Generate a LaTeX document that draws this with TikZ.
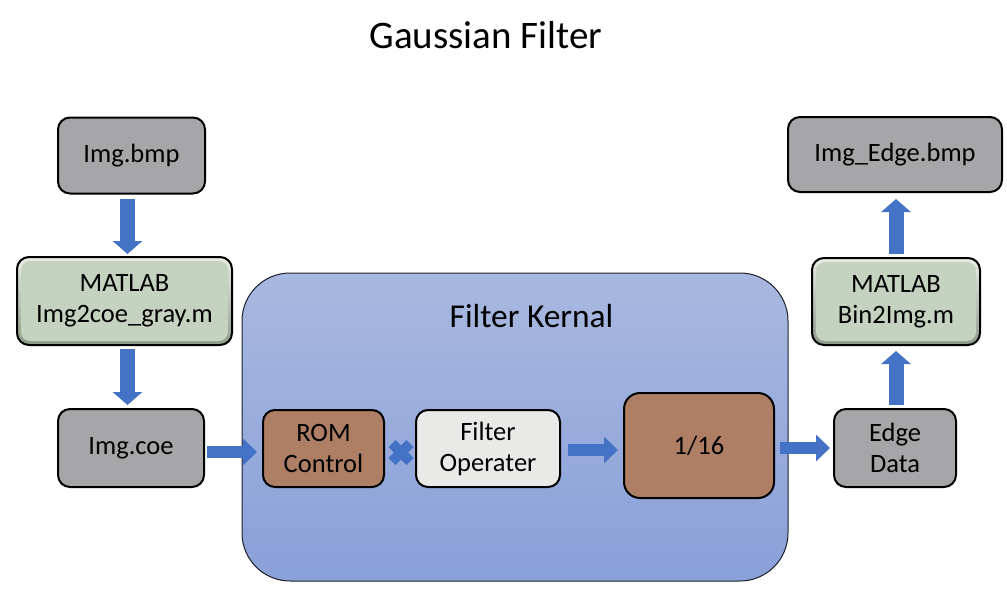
\documentclass[tikz,border=0pt]{standalone}
\usepackage{fontspec}
\setmainfont{Carlito}
\usetikzlibrary{arrows.meta,calc}
\definecolor{boxgray}{RGB}{166,165,167}
\definecolor{matgreen}{RGB}{197,210,191}
\definecolor{matlight}{RGB}{232,238,228}
\definecolor{matdark}{RGB}{140,155,135}
\definecolor{brownbox}{RGB}{174,127,101}
\definecolor{lightbox}{RGB}{233,233,231}
\definecolor{arrowblue}{RGB}{68,114,196}
\definecolor{kerntop}{RGB}{168,184,224}
\definecolor{kernbot}{RGB}{137,160,216}
\definecolor{kernline}{RGB}{30,30,40}
\tikzset{
  basebox/.style={draw=black, line width=2pt, rounded corners=12pt, align=center,
    font=\fontsize{26.5}{31}\selectfont, inner sep=0pt},
  graybox/.style={basebox, fill=boxgray},
  brbox/.style={basebox, fill=brownbox},
  ltbox/.style={basebox, fill=lightbox},
  matbox/.style={basebox, top color=matlight, bottom color=matdark,
    path picture={\fill[matgreen, rounded corners=9pt]
      ([shift={(4pt,-4pt)}]path picture bounding box.north west) rectangle
      ([shift={(-4pt,4pt)}]path picture bounding box.south east);}},
  varrow/.style={draw=arrowblue, line width=15pt, -{Triangle[width=29pt,length=13pt]}},
  harrow/.style={draw=arrowblue, line width=12pt, -{Triangle[width=26pt,length=14pt]}},
}
\begin{document}
\begin{tikzpicture}[x=1pt,y=-1pt]
\useasboundingbox (0,0) rectangle (1007,590);
% kernel container
\node[draw=kernline, line width=1pt, rounded corners=48pt, top color=kerntop, bottom color=kernbot,
  minimum width=546pt, minimum height=308pt, inner sep=0pt] (kernel) at (515,427) {};
\node[font=\fontsize{39}{46}\selectfont] (title) at (486,35) {Gaussian Filter};
\node[font=\fontsize{33.4}{40}\selectfont] (kerntitle) at (531.5,316.5) {Filter Kernal};
% boxes
\node[graybox, minimum width=147pt, minimum height=76pt] (imgbmp) at (131.5,155.5) {Img.bmp};
\node[matbox, minimum width=215pt, minimum height=88pt] (mat1) at (124.5,301) {MATLAB\\Img2coe\_gray.m};
\node[graybox, minimum width=146pt, minimum height=78pt] (imgcoe) at (131,448) {Img.coe};
\node[brbox, minimum width=121pt, minimum height=77pt] (rom) at (323.5,448.5) {ROM\\Control};
\node[ltbox, minimum width=144pt, minimum height=77pt] (fop) at (488,448.5) {Filter\\Operater};
\node[brbox, rounded corners=16pt, minimum width=150pt, minimum height=105pt] (r16) at (699,445.5) {1/16};
\node[graybox, minimum width=122pt, minimum height=78pt] (edge) at (895,448) {Edge\\Data};
\node[matbox, minimum width=168pt, minimum height=87pt] (mat2) at (896,301.5) {MATLAB\\Bin2Img.m};
\node[graybox, minimum width=214pt, minimum height=75pt] (imgedge) at (895,154.5) {Img\_Edge.bmp};
% cross between ROM and operator
\coordinate (cross) at (401,452.5);
\draw[arrowblue, line width=10pt] ([shift={(-9pt,9pt)}]cross) -- ([shift={(9pt,-9pt)}]cross);
\draw[arrowblue, line width=10pt] ([shift={(-9pt,-9pt)}]cross) -- ([shift={(9pt,9pt)}]cross);
% arrows
\draw[varrow, shorten <=4.5pt, shorten >=2pt] ([xshift=-4pt]imgbmp.south) -- ([xshift=-4pt]imgbmp.south |- mat1.north);
\draw[varrow, shorten <=3pt, shorten >=3pt] ([xshift=3pt]mat1.south) -- ([xshift=3pt]mat1.south |- imgcoe.north);
\draw[harrow, shorten <=2pt, shorten >=5pt] ([yshift=-4pt]imgcoe.east) -- ([yshift=-4pt]imgcoe.east -| rom.west);
\draw[harrow, shorten <=7pt, shorten >=5pt] ([yshift=-1.5pt]fop.east) -- ([yshift=-1.5pt]fop.east -| r16.west);
\draw[harrow, shorten <=5pt, shorten >=3pt] (r16.east |- edge.west) -- (edge.west);
\draw[varrow, shorten <=3pt, shorten >=5pt] ([xshift=1pt]edge.north) -- ([xshift=1pt]edge.north |- mat2.south);
\draw[varrow, shorten <=3pt, shorten >=6pt] (mat2.north) -- (mat2.north |- imgedge.south);
\end{tikzpicture}
\end{document}
